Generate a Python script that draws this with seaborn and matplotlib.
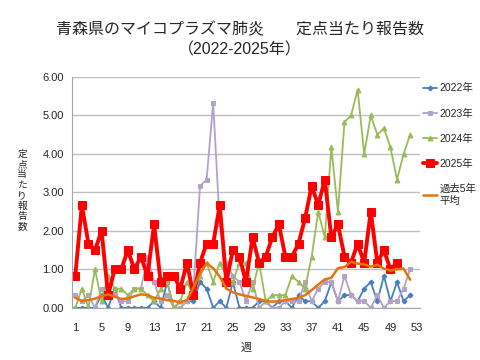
import numpy as np
import pandas as pd
import seaborn as sns
import matplotlib.pyplot as plt

# weekly values per sentinel
y2022 = [0, 0, 0, 0, 0.33, 0, 0.5, 0, 0, 0, 0, 0, 0.17, 0, 0.67, 0, 0.17, 0.17, 0.17, 0.67,
         0.5, 0, 0.17, 0, 0.67, 0, 0, 0, 0.17, 0.17, 0, 0.17, 0.17, 0, 0.33, 0.17, 0.17, 0, 0.17, 0.67,
         0.17, 0.33, 0.33, 0.17, 0.5, 0.67, 0.17, 0.83, 0.17, 0.67, 0.17, 0.33]
y2023 = [0.33, 0.17, 0.33, 0, 0.5, 0.5, 0.33, 0.17, 0.17, 0.5, 0.5, 1.33, 0.67, 0.17, 0.33, 0, 0, 0.17, 0.5, 3.17,
         3.33, 5.33, 2.17, 1.17, 0.83, 0.67, 0.17, 0.67, 0, 0.17, 0, 0, 0.17, 0.17, 0.17, 0.67, 0.17, 0.5, 0.67, 0.67,
         0.17, 0.83, 0.33, 0.17, 0.17, 0, 0.33, 0, 0.17, 0.17, 0.5, 1.0]
y2024 = [0, 0.5, 0, 1.0, 0.17, 0.83, 0.5, 0.5, 0.33, 0.5, 0.5, 0.33, 0.17, 0.5, 0.67, 0, 0.17, 0.67, 0.33, 0.83,
         1.17, 0.67, 1.17, 0.83, 0.67, 1.17, 1.17, 0.5, 1.17, 0.17, 0.33, 0.33, 0.33, 0.83, 0.67, 0.5, 1.33, 2.5, 1.83, 4.17,
         2.5, 4.83, 5.0, 5.67, 4.0, 5.0, 4.5, 4.67, 4.17, 3.33, 4.0, 4.5]
y2025 = [0.83, 2.67, 1.67, 1.5, 2.0, 0.33, 1.0, 1.0, 1.5, 1.0, 1.33, 0.83, 2.17, 0.67, 0.83, 0.83, 0.5, 1.17, 0.33, 1.17,
         1.67, 1.67, 2.67, 0.67, 1.5, 1.33, 0.67, 1.83, 1.17, 1.33, 1.83, 2.17, 1.33, 1.33, 1.67, 2.33, 3.17, 2.67, 3.33, 1.83,
         2.17, 1.33, 1.17, 1.67, 1.17, 2.5, 1.17, 1.5, 1.0, 1.17]
avg5 = [0.26, 0.17, 0.2, 0.24, 0.3, 0.35, 0.29, 0.23, 0.24, 0.3, 0.35, 0.33, 0.26, 0.24, 0.2, 0.18, 0.14, 0.2, 0.52, 0.9,
        1.16, 1.03, 0.81, 0.5, 0.4, 0.35, 0.31, 0.27, 0.23, 0.17, 0.16, 0.17, 0.2, 0.23, 0.26, 0.33, 0.46, 0.6, 0.74, 0.78,
        1.03, 1.06, 1.2, 1.15, 1.13, 1.07, 1.12, 1.02, 0.97, 1.0, 1.02, 0.73]

series = [
    ("2022年", y2022, "#4A7EBB", "D", 2.5, 1.3),
    ("2023年", y2023, "#B3A2C7", "s", 3.5, 1.3),
    ("2024年", y2024, "#9BBB59", "^", 3.5, 1.3),
    ("2025年", y2025, "#FF0000", "s", 5.5, 2.8),
]

sns.set_style("white")
plt.rcParams['font.family'] = ['Liberation Sans', 'Noto Sans CJK JP', 'DejaVu Sans']

fig = plt.figure(figsize=(4.8, 3.6), dpi=100)
ax = fig.add_axes([0.15, 0.145, 0.725, 0.641])

for label, vals, col, mk, ms, lw in series:
    weeks = np.arange(1, len(vals) + 1)
    sns.lineplot(x=weeks, y=vals, ax=ax, color=col, marker=mk, markersize=ms,
                 markeredgecolor=col, linewidth=lw, label=label)
sns.lineplot(x=np.arange(1, len(avg5) + 1), y=avg5, ax=ax, color="#E8730C",
             linewidth=1.8, label="過去5年\n平均")

ax.set_xlim(0.5, 53.5)
ax.set_ylim(0, 6)
ax.set_yticks(np.arange(0, 7, 1))
ax.set_yticklabels([f"{v:.2f}" for v in range(7)], fontsize=8)
ax.set_yticks(np.arange(0.5, 6, 1), minor=True)
ax.set_xticks(np.arange(1, 54, 4))
ax.set_xticklabels([str(w) for w in range(1, 54, 4)], fontsize=8)
ax.set_xticks(np.arange(0.5, 54, 4), minor=True)
ax.tick_params(axis='x', which='major', length=0, pad=11)
ax.tick_params(axis='x', which='minor', length=4, color='#A6A6A6', direction='out')
ax.tick_params(axis='y', which='both', length=3, color='#A6A6A6', direction='out', pad=3)
ax.yaxis.grid(True, color='#BFBFBF', linewidth=1)
ax.set_axisbelow(True)
for s in ['top', 'right']:
    ax.spines[s].set_visible(False)
for s in ['left', 'bottom']:
    ax.spines[s].set_color('#A6A6A6')
    ax.spines[s].set_linewidth(0.8)

ax.set_xlabel("週", fontsize=8, labelpad=7)
ax.set_ylabel("")
fig.text(0.046, 0.472, "\n".join("定点当たり報告数"), fontsize=7, ha='center', va='center',
         linespacing=1.05)

fig.text(0.5, 0.918, "青森県のマイコプラズマ肺炎\u3000\u3000定点当たり報告数", fontsize=11.5,
         ha='center', va='center')
fig.text(0.5, 0.862, "（2022-2025年）", fontsize=11.5, ha='center', va='center')

ax.get_legend().remove()
h, l = ax.get_legend_handles_labels()
fig.legend(h, l, loc='upper left', bbox_to_anchor=(0.87, 0.783), frameon=False,
           fontsize=7.5, handlelength=1.4, handletextpad=0.2, labelspacing=1.45,
           borderpad=0)

fig.savefig("out.png", dpi=100)
